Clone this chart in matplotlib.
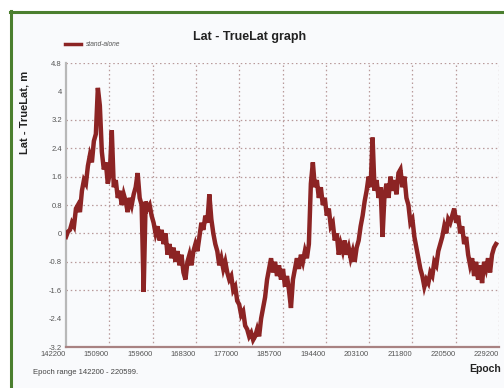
import numpy as np
import matplotlib
matplotlib.use("Agg")
import matplotlib.pyplot as plt
import matplotlib.transforms as mtransforms
from matplotlib.patches import Rectangle
from matplotlib.lines import Line2D

plt.rcParams["font.family"] = ["Liberation Sans", "DejaVu Sans"]

# Epoch sampling of the stand-alone solution
epoch_start = 142200
epoch_step = 400
lat_err = [
    -0.1, 0.05, 0.1, 0.3, 0.2, 0.7, 0.8, 0.6, 1.2, 1.5,
    1.4, 1.9, 2.2, 2.0, 2.6, 2.8, 4.1, 3.6, 2.3, 1.8,
    2.0, 1.4, 1.7, 2.9, 1.3, 1.5, 1.0, 1.2, 0.8, 1.1,
    0.9, 0.6, 1.0, 0.8, 1.1, 1.3, 1.7, 1.0, 0.8, -1.65,
    0.9, 0.7, 0.8, 0.5, 0.3, 0.0, 0.2, -0.2, 0.1, -0.3,
    0.0, -0.6, -0.3, -0.7, -0.4, -0.8, -0.5, -0.9, -0.6, -1.1,
    -1.3, -0.8, -0.6, -0.9, -0.5, -0.3, -0.5, -0.1, 0.3, 0.1,
    0.5, 0.3, 1.1, 0.4, 0.0, -0.3, -0.5, -0.9, -0.7, -1.0,
    -0.8, -1.1, -1.3, -1.2, -1.6, -1.5, -1.9, -2.0, -2.3, -2.2,
    -2.6, -2.7, -2.9, -2.8, -3.0, -2.9, -2.7, -2.9, -2.4, -2.1,
    -1.8, -1.3, -1.0, -0.7, -1.1, -0.8, -1.2, -0.9, -1.3, -1.0,
    -1.5, -1.2, -1.6, -2.1, -1.3, -1.0, -0.7, -1.0, -0.6, -0.8,
    -0.5, -0.7, -0.3, 1.4, 2.0, 1.3, 1.5, 1.0, 1.3, 0.8,
    1.0, 0.5, 0.7, 0.2, 0.3, -0.2, 0.0, -0.6, -0.3, -0.5,
    -0.2, -0.6, -0.4, -0.7, -0.5, -0.8, -0.4, -0.2, 0.2, 0.5,
    0.9, 1.2, 1.6, 1.3, 2.7, 1.2, 1.5, 1.0, 1.3, -0.1,
    1.1, 1.4, 1.0, 1.6, 1.2, 1.5, 1.1, 1.7, 1.8, 1.3,
    1.6, 1.0, 0.8, 0.3, 0.4, -0.1, -0.4, -0.7, -1.0, -1.2,
    -1.5, -1.3, -1.4, -1.1, -1.2, -0.8, -0.9, -0.5, -0.3, -0.1,
    0.2, 0.0, 0.4, 0.3, 0.5, 0.7, 0.3, 0.5, 0.0, 0.2,
    -0.3, -0.1, -0.6, -0.9, -0.7, -1.2, -0.8, -1.3, -0.9, -1.4,
    -0.8, -1.0, -0.7, -1.1, -0.6, -0.4, -0.3,
]
epochs = epoch_start + epoch_step * np.arange(len(lat_err))

x_ticks = [142200, 150900, 159600, 168300, 177000, 185700,
           194400, 203100, 211800, 220500, 229200]
y_ticks = [4.8, 4.0, 3.2, 2.4, 1.6, 0.8, 0.0, -0.8, -1.6, -2.4, -3.2]
y_tick_labels = ["4.8", "4", "3.2", "2.4", "1.6", "0.8", "0",
                 "-0.8", "-1.6", "-2.4", "-3.2"]
y_grid = [4.8, 3.2, 2.4, 1.6, 0.8, 0.0, -0.8, -1.6]

W, H = 504, 388
fig = plt.figure(figsize=(W / 100, H / 100), dpi=100)
fig.patch.set_facecolor("white")

# Panel background and green frame
fig.patches.append(Rectangle((11 / W, 0), 1, 1 - 12 / H, transform=fig.transFigure,
                             facecolor="#f9fafc", edgecolor="none", zorder=-10))
fig.add_artist(Line2D([10.5 / W, 10.5 / W], [0, 1 - 11 / H], transform=fig.transFigure,
                      color="#4b7f2f", lw=2.2))
fig.add_artist(Line2D([10 / W, 1], [1 - 11.5 / H, 1 - 11.5 / H], transform=fig.transFigure,
                      color="#4b7f2f", lw=2.2))

ax = fig.add_axes([66 / W, 1 - 347 / H, (499 - 66) / W, (347 - 63) / H])
ax.set_zorder(2)
ax.set_facecolor("none")
ax.set_xlim(x_ticks[0], x_ticks[-1])
ax.set_ylim(-3.2, 4.8)

grid_kw = dict(color="#b89a9a", lw=0.9, ls=(0, (1.2, 2.2)), zorder=1)
for y in y_grid:
    ax.axhline(y, **grid_kw)
for x in x_ticks[1:]:
    ax.axvline(x, **grid_kw)

ax.plot(epochs, lat_err, color="#8c2424", lw=3.2, solid_joinstyle="miter", zorder=3)

for s in ("top", "right"):
    ax.spines[s].set_visible(False)
ax.spines["left"].set_color("#b8b8b8")
ax.spines["left"].set_linewidth(1.6)
ax.spines["bottom"].set_color("#a88282")
ax.spines["bottom"].set_linewidth(1.6)

ax.set_xticks(x_ticks)
ax.set_xticklabels([str(t) for t in x_ticks])
ax.set_yticks(y_ticks)
ax.set_yticklabels(y_tick_labels)
ax.tick_params(length=0, labelsize=5.5, labelcolor="#555555")
ax.tick_params(axis="x", pad=3)
ax.tick_params(axis="y", pad=3)

# Epoch labels sit slightly left of their grid lines
shift = mtransforms.ScaledTranslation(-13 / 100, 0, fig.dpi_scale_trans)
for lab in ax.get_xticklabels():
    lab.set_transform(lab.get_transform() + shift)

fig.text(250 / W, 1 - 37 / H, "Lat - TrueLat graph", ha="center", va="center",
         fontsize=9, fontweight="bold", color="#222222")
fig.add_artist(Line2D([65 / W, 81 / W], [1 - 44 / H, 1 - 44 / H], transform=fig.transFigure,
                      color="#8c2424", lw=2.5))
fig.text(86 / W, 1 - 44 / H, "stand-alone", ha="left", va="center",
         fontsize=4.8, color="#555555", style="italic")
fig.text(25 / W, 1 - 112 / H, "Lat - TrueLat, m", ha="center", va="center",
         rotation=90, fontsize=8, fontweight="bold", color="#222222")
fig.text(33 / W, 1 - 372 / H, "Epoch range 142200 - 220599.", ha="left", va="center",
         fontsize=5.5, color="#444444")
fig.text(501 / W, 1 - 369 / H, "Epoch", ha="right", va="center",
         fontsize=7.5, fontweight="bold", color="#222222")

fig.savefig("out.png", dpi=100)
